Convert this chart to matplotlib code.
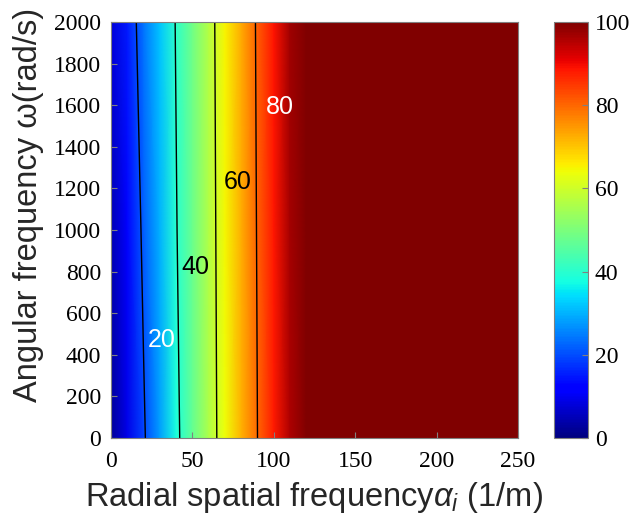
import numpy as np
import matplotlib.pyplot as plt

# radial spatial frequency grid (1/m) and angular frequency rows (rad/s)
alpha = [0, 10, 20, 30, 40, 50, 60, 70, 80, 90, 100, 110, 120, 250]
omega = [0, 1000, 2000]

# values, one row per omega
v_w0 = [2, 9, 19, 28, 38, 47, 56, 64, 72, 80, 88, 96, 100, 100]
v_w1000 = [4.5, 12, 21.5, 30, 39.5, 48, 56.5, 64.5, 72.5, 80.5, 88.5, 96.5, 100, 100]
v_w2000 = [8, 15, 24, 32, 40.5, 48.5, 57, 65, 73, 81, 89, 97, 100, 100]

levels = [20, 40, 60, 80]
label_pos = [(31, 470), (52, 820), (78, 1230), (104, 1590)]
label_col = ['white', 'black', 'black', 'white']

plt.rcParams['font.family'] = ['Liberation Serif']
plt.rcParams['mathtext.fontset'] = 'custom'
plt.rcParams['mathtext.it'] = 'Liberation Sans:italic'
plt.rcParams['mathtext.rm'] = 'Liberation Sans'

Z = np.array([v_w0, v_w1000, v_w2000])
X, Y = np.meshgrid(alpha, omega)

fig = plt.figure(figsize=(6.32, 5.18), dpi=100)
ax = fig.add_axes([0.1756, 0.1544, 0.644, 0.8031])
cax = fig.add_axes([0.8766, 0.1544, 0.0538, 0.8031])

pm = ax.pcolormesh(X, Y, Z, cmap='jet', vmin=0, vmax=100, shading='gouraud')
ax.contour(X, Y, Z, levels=levels, colors='black', linewidths=1.0)
for lv, (px, py), c in zip(levels, label_pos, label_col):
    ax.text(px, py, str(lv), color=c, fontsize=18, family='Liberation Sans',
            ha='center', va='center')

ax.set_xlim(0, 250)
ax.set_ylim(0, 2000)
ax.set_xticks(range(0, 251, 50))
ax.set_yticks(range(0, 2001, 200))
ax.tick_params(direction='in', labelsize=17, length=4, color='#808080')
ax.tick_params(axis='x', pad=9)
ax.tick_params(axis='y', pad=7)
for s in ax.spines.values():
    s.set_color('#808080')
ax.set_xlabel(r'Radial spatial frequency$\alpha_i$ (1/m)', fontsize=23.5,
              family='Liberation Sans', labelpad=6, color='#262626')
ax.set_ylabel('Angular frequency ω(rad/s)', fontsize=23.5,
              family='Liberation Sans', color='#262626')
ax.yaxis.set_label_coords(-0.165, 0.56)

cb = fig.colorbar(pm, cax=cax)
cb.set_ticks([0, 20, 40, 60, 80, 100])
cb.ax.tick_params(direction='in', labelsize=17, length=4, color='#808080', pad=5)
cb.outline.set_edgecolor('#808080')

plt.savefig('out.png', dpi=100)
plt.close()
